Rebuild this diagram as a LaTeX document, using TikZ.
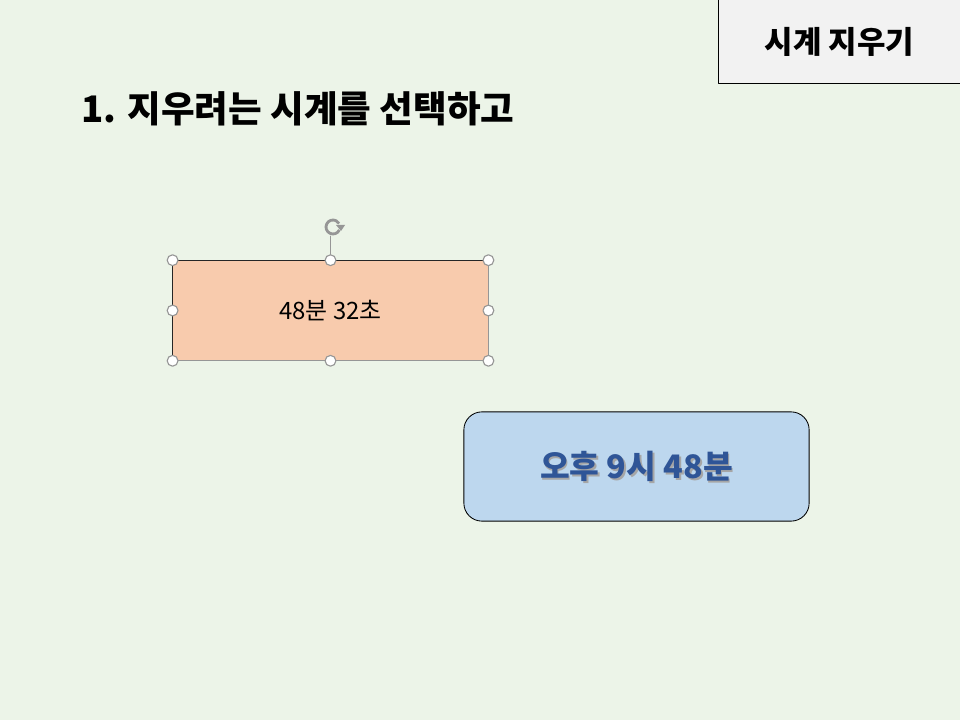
\documentclass[tikz,border=0pt]{standalone}
\usepackage{fontspec}
\setmainfont{Noto Sans CJK KR}
\usetikzlibrary{arrows.meta, calc}
\definecolor{slidebg}{RGB}{236,244,232}
\definecolor{tagfill}{RGB}{242,242,242}
\definecolor{clkfill}{RGB}{248,203,173}
\definecolor{timefill}{RGB}{189,215,238}
\definecolor{timetext}{RGB}{47,85,151}
\definecolor{handle}{RGB}{150,150,150}

\begin{document}
\begin{tikzpicture}[>=Latex, line cap=round, line join=round,
	x=0.025cm, y=-0.025cm,
	handlept/.style={circle, draw=handle, fill=white, line width=0.8pt,
		inner sep=0pt, minimum size=0.27cm},
	tagbox/.style={draw=black, fill=tagfill, line width=0.6pt,
		minimum width=6.03cm, minimum height=2.08cm, font=\fontsize{22}{26}\selectfont\bfseries},
	clkbox/.style={fill=clkfill, minimum width=7.88cm, minimum height=2.5cm,
		inner sep=0pt, font=\fontsize{17}{20}\selectfont},
	timebox/.style={draw=black, fill=timefill, rounded corners=0.45cm, line width=0.6pt,
		minimum width=8.63cm, minimum height=2.73cm},
	timefont/.style={font=\fontsize{23}{27}\selectfont\bfseries}]
	
	%========================
	% slide background
	%========================
	\fill[slidebg] (0,0) rectangle (960,720);
	\useasboundingbox (0,0) rectangle (960,720);
	
	% tag in the top right corner
	\node[tagbox] (tag) at (839.5,41.5) {시계 지우기};
	
	% step heading
	\node[anchor=west, inner sep=0pt, font=\fontsize{26}{31}\selectfont\bfseries]
	(step1) at (81,109) {1. 지우려는 시계를 선택하고};
	
	%========================
	% selected clock shape
	%========================
	\node[clkbox] (clk) at (330.5,310.5) {48분 32초};
	\draw[black!85, line width=0.7pt] (clk.south west) -- (clk.north west) -- (clk.north east);
	\draw[handle, line width=0.7pt] (clk.north east) -- (clk.south east) -- (clk.south west);
	
	% rotation handle
	\coordinate (rot) at (333,227);
	\draw[handle, line width=0.7pt] (clk.north) -- ($(clk.north)+(0,-24)$);
	\draw[handle, line width=2pt, line cap=butt] (rot) ++(25:7) arc (25:330:7);
	\fill[handle] ($(rot)+(3,-2)$) -- ($(rot)+(12,-2)$) -- ($(rot)+(8,4)$) -- cycle;
	
	% sizing handles
	\foreach \a in {north west, north, north east, east, south east, south, south west, west}
	\node[handlept] at (clk.\a) {};
	
	%========================
	% time display
	%========================
	\node[timebox] (time) at (636.5,466.5) {};
	\node[timefont, text=black!35] at ($(time)+(1.5,1.5)$) {오후 9시 48분};
	\node[timefont, text=timetext] (timelbl) at (time) {오후 9시 48분};
	
\end{tikzpicture}
\end{document}
